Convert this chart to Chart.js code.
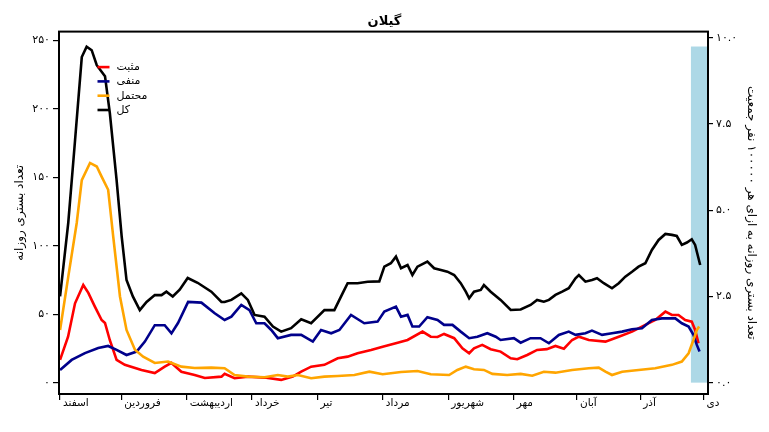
<!DOCTYPE html>
<html>
<head>
<meta charset="utf-8">
<script src="https://cdn.jsdelivr.net/npm/chart.js@4.4.0/dist/chart.umd.min.js"></script>
<style>
  html, body { margin: 0; padding: 0; background: #fff; }
  canvas { display: block; }
</style>
</head>
<body>
<canvas id="chart" width="769" height="432"></canvas>
<script>
// days counted from 1 Esfand
var monthStarts = [0, 29, 60, 91, 122, 153, 184, 215, 245, 275, 305];
var monthNames = ['اسفند', 'فروردین', 'اردیبهشت', 'خرداد', 'تیر', 'مرداد', 'شهریور', 'مهر', 'آبان', 'آذر', 'دی'];
var leftTicks = [0, 50, 100, 150, 200, 250];
var rightTicks = [0, 2.5, 5, 7.5, 10];
var shadeDays = [299, 307.1];
var shadeRight = [0, 9.75];

var positiveDays = [0, 3.8, 7.1, 11, 13.4, 16.5, 19.7, 21.3, 23.6, 26.8, 30.7, 38.6, 44.9, 49.6, 52.8, 57.5, 63.8, 68.6, 76.5, 78, 82.7, 89, 96.9, 104.8, 110.3, 114.3, 119, 125.3, 131.6, 136.3, 141, 147.4, 152.9, 160, 164.7, 171.8, 175.7, 178.9, 182, 186.8, 190.7, 193.9, 196.2, 200.1, 204.1, 208.8, 213.6, 216.7, 221.4, 226.1, 230.7, 234.8, 238.8, 242.7, 245.9, 250.6, 258.5, 264.8, 271.1, 277.4, 282.1, 286.9, 290, 293.1, 296.3, 299.4, 301, 302.6];
var positiveVals = [16.6, 33.6, 58, 71.4, 65.6, 55.6, 45.8, 43.6, 31, 16.6, 13, 9.3, 7, 11.7, 14.4, 8, 5.6, 3.4, 4.4, 6.4, 3.2, 4.4, 3.7, 2, 4.4, 8, 11.7, 13, 17.8, 19, 21.5, 23.9, 26.3, 29.2, 31.2, 37.3, 33.6, 33.4, 35.6, 32.5, 25.1, 21.5, 25.1, 27.6, 24.4, 22.7, 17.8, 17.1, 20.2, 23.9, 24.5, 26.8, 24.8, 31.2, 33.6, 31.2, 30, 33.6, 37.3, 42.2, 45.8, 51.9, 49.5, 49.5, 45.8, 44.6, 38.5, 28.8];

var negativeDays = [0, 5.5, 11.8, 18.1, 22.8, 26.8, 31.5, 36.3, 40.2, 44.9, 49.6, 52.8, 55.9, 60.7, 67, 73.3, 78, 81.2, 85.9, 89.8, 93, 96.9, 100.1, 103.2, 109.5, 114.3, 119.8, 123.7, 128.5, 132.4, 137.9, 144.2, 150.5, 153.7, 159.2, 161.6, 164.7, 167, 170.2, 174.1, 178.9, 182, 186, 189.9, 193.9, 197.8, 202.5, 206.5, 208.8, 215.1, 218.3, 223, 227.7, 231.7, 236.4, 241.1, 244.3, 249, 252.1, 256.9, 261.6, 266.4, 271.1, 275.8, 280.5, 285.3, 291.6, 294.7, 297.9, 300.2, 301.8, 303.1];
var negativeVals = [9.3, 16.6, 21.6, 25.3, 26.8, 24, 20.2, 22.7, 30, 42, 42, 36, 43.6, 59, 58.5, 50.7, 45.8, 48.2, 56.8, 53, 43.4, 43.4, 38.5, 32.5, 34.9, 34.9, 30, 38.5, 36.1, 38.5, 49.5, 43.4, 44.6, 51.9, 55.6, 48.2, 49.5, 41, 41, 47.8, 45.8, 42.2, 42.2, 37.3, 32.5, 33.6, 36.1, 33.6, 31.2, 32.5, 29.2, 32.5, 32.5, 28.8, 34.9, 37.3, 34.9, 36.1, 38, 34.9, 36.1, 37.3, 39, 39.8, 45.8, 47, 47, 43.4, 41, 34.9, 27.6, 22.7];

var suspectedDays = [0, 3.9, 7.9, 10.3, 14.2, 17.4, 19.7, 22.8, 25.2, 28.4, 31.5, 35.5, 39.4, 44.9, 51.2, 57.5, 63.8, 71.7, 78, 82.7, 89, 96.9, 103.2, 107.9, 112.7, 119, 125.3, 131.6, 139.5, 146.6, 152.9, 161.6, 169.4, 175.7, 184.4, 188.3, 192.3, 196.2, 200.9, 204.9, 211.9, 218.3, 223.8, 229.3, 234.8, 242.7, 250.6, 255.3, 258.5, 261.6, 266.4, 274.2, 282.1, 290, 294.7, 297.9, 300.2, 301.8, 302.9];
var suspectedVals = [38.5, 77.5, 116.7, 148, 160.6, 158, 150.6, 141, 106.7, 63, 38.5, 24, 19, 14.4, 15.4, 11.7, 10.7, 11, 10.5, 5.6, 4.4, 3.9, 5.6, 4.4, 5.6, 3.2, 4.4, 4.9, 5.6, 8, 6.1, 7.8, 8.5, 6.1, 5.6, 9.3, 11.7, 9.8, 9.3, 6.4, 5.6, 6.4, 5.1, 8, 7.3, 9.3, 10.5, 11, 8, 5.6, 8, 9.3, 10.5, 13, 15.4, 21.5, 31.2, 38.5, 41];

var totalDays = [0, 3.9, 7.1, 10.3, 12.6, 15, 17.4, 21.3, 23.6, 26.8, 29.2, 31.5, 34.5, 37.8, 41, 44.9, 48.1, 50.4, 53.4, 56.7, 60.5, 65.2, 71.7, 76.5, 78, 81.2, 85.9, 89, 92.2, 96.9, 100.9, 104.8, 109.5, 114.3, 119, 125.3, 130, 133.9, 136.3, 141, 145.8, 151.3, 153.7, 156.8, 159.2, 161.6, 164.7, 167, 169.4, 174.1, 177.3, 180.5, 183.6, 186.8, 189.9, 192.3, 193.9, 196.2, 199.4, 200.9, 204.1, 208.8, 213.6, 218.3, 223, 226.1, 229.3, 231.7, 234.8, 238, 241.1, 244.3, 245.9, 249, 252.1, 254.5, 257.7, 261.6, 264.8, 267.9, 271.1, 274.2, 277.4, 280.5, 283.7, 286.9, 290, 292.3, 294.7, 297.1, 299.4, 301, 303.4];
var totalVals = [63, 117, 177, 238, 245.6, 243, 232, 224, 197, 148, 107, 75, 63, 53, 59, 64, 64, 66.5, 63, 68, 76.5, 73, 66.5, 59, 59, 60.5, 65.3, 60.5, 49.5, 48.2, 41, 37.3, 39.8, 46.3, 43.4, 53, 53, 65.3, 72.7, 72.7, 73.8, 74, 84.8, 87.3, 92.1, 83.6, 86, 78.7, 84.8, 88.5, 83.6, 82.4, 81.1, 78.7, 72.7, 66.5, 61.7, 66.5, 67.8, 71.4, 66.5, 60.5, 53.1, 53.5, 56.8, 60.5, 59.2, 60.5, 64.1, 66.5, 69, 76.3, 78.7, 73.8, 75, 76.3, 72.7, 69, 72.7, 77.5, 81.1, 84.8, 87.3, 97, 104.3, 108.7, 108, 107.2, 100.7, 102.4, 104.8, 100.7, 86];

var perCapitaRatio = 25.2;
var yMin = -8.3, yMax = 256.6;

var FONT = "'DejaVu Sans', sans-serif";

function fa(s) {
    return String(s).replace(/\d/g, function (d) { return '۰۱۲۳۴۵۶۷۸۹'[d]; });
}

function toPoints(days, vals) {
    return days.map(function (d, i) { return {x: d, y: vals[i]}; });
}

function lineSet(label, color, days, vals, order) {
    return {
        label: label,
        data: toPoints(days, vals),
        borderColor: color,
        backgroundColor: color,
        borderWidth: 2.6,
        pointRadius: 0,
        tension: 0,
        fill: false,
        order: order,
        yAxisID: 'y'
    };
}

var shadePlugin = {
    id: 'shade',
    beforeDatasetsDraw: function (chart) {
        var ctx = chart.ctx, x = chart.scales.x, r = chart.scales.y2;
        var x0 = x.getPixelForValue(shadeDays[0]), x1 = x.getPixelForValue(shadeDays[1]);
        var y0 = r.getPixelForValue(shadeRight[1]), y1 = r.getPixelForValue(shadeRight[0]);
        ctx.save();
        ctx.fillStyle = '#add8e6';
        ctx.fillRect(x0, y0, x1 - x0, y1 - y0);
        ctx.restore();
    }
};

var framePlugin = {
    id: 'frame',
    afterDatasetsDraw: function (chart) {
        var ctx = chart.ctx, a = chart.chartArea;
        ctx.save();
        ctx.strokeStyle = '#000';
        ctx.lineWidth = 2;
        ctx.strokeRect(a.left, a.top, a.right - a.left, a.bottom - a.top);

        // legend, upper left inside the plot
        ctx.font = '11px ' + FONT;
        ctx.textBaseline = 'middle';
        ctx.textAlign = 'left';
        chart.data.datasets.forEach(function (ds, i) {
            var y = a.top + 35.5 + i * 14.3;
            ctx.strokeStyle = ds.borderColor;
            ctx.lineWidth = 2.6;
            ctx.beginPath();
            ctx.moveTo(a.left + 38.5, y);
            ctx.lineTo(a.left + 50.5, y);
            ctx.stroke();
            ctx.fillStyle = '#000';
            ctx.fillText(ds.label, a.left + 57.5, y);
        });
        ctx.restore();
    }
};

var ctx = document.getElementById('chart').getContext('2d');
new Chart(ctx, {
    type: 'line',
    data: {
        datasets: [
            lineSet('مثبت', '#ff0000', positiveDays, positiveVals, 4),
            lineSet('منفی', '#00008b', negativeDays, negativeVals, 3),
            lineSet('محتمل', '#ffa500', suspectedDays, suspectedVals, 2),
            lineSet('کل', '#000000', totalDays, totalVals, 1)
        ]
    },
    options: {
        responsive: false,
        animation: false,
        layout: {padding: 0},
        plugins: {
            legend: {display: false},
            tooltip: {enabled: false},
            title: {
                display: true,
                text: 'گیلان',
                color: '#000',
                font: {family: FONT, size: 13, weight: 'bold'},
                padding: {top: 14, bottom: 2}
            }
        },
        scales: {
            x: {
                type: 'linear',
                min: -0.5,
                max: 307.1,
                border: {display: false},
                grid: {display: true, drawOnChartArea: false, drawTicks: true, tickLength: 6, color: '#000', lineWidth: 1.2},
                afterBuildTicks: function (scale) {
                    scale.ticks = monthStarts.map(function (v) { return {value: v}; });
                },
                afterFit: function (scale) { scale.height = 38; },
                ticks: {
                    autoSkip: false,
                    maxRotation: 0,
                    align: 'start',
                    labelOffset: 3,
                    padding: -3,
                    color: '#000',
                    font: {family: FONT, size: 10.5},
                    callback: function (value, index) { return monthNames[index]; }
                }
            },
            y: {
                type: 'linear',
                position: 'left',
                min: yMin,
                max: yMax,
                border: {display: false},
                grid: {display: true, drawOnChartArea: false, drawTicks: true, tickLength: 6, color: '#000', lineWidth: 1.2},
                afterBuildTicks: function (scale) {
                    scale.ticks = leftTicks.map(function (v) { return {value: v}; });
                },
                afterFit: function (scale) { scale.width = 59; },
                ticks: {
                    padding: 3,
                    color: '#000',
                    font: {family: FONT, size: 11},
                    callback: function (value) { return fa(value); }
                },
                title: {
                    display: true,
                    text: 'تعداد بستری روزانه',
                    color: '#000',
                    font: {family: FONT, size: 12},
                    padding: {top: 13, bottom: 0}
                }
            },
            y2: {
                type: 'linear',
                position: 'right',
                min: yMin / perCapitaRatio,
                max: yMax / perCapitaRatio,
                border: {display: false},
                grid: {display: true, drawOnChartArea: false, drawTicks: true, tickLength: 5, color: '#000', lineWidth: 1.2},
                afterBuildTicks: function (scale) {
                    scale.ticks = rightTicks.map(function (v) { return {value: v}; });
                },
                afterFit: function (scale) { scale.width = 61; },
                ticks: {
                    padding: 3,
                    color: '#000',
                    font: {family: FONT, size: 11},
                    callback: function (value) { return fa(value.toFixed(1)); }
                },
                title: {
                    display: true,
                    text: 'تعداد بستری روزانه به ازای هر ۱۰۰۰۰۰ نفر جمعیت',
                    color: '#000',
                    font: {family: FONT, size: 12},
                    padding: {top: 11, bottom: 0}
                }
            }
        }
    },
    plugins: [shadePlugin, framePlugin]
});
</script>
</body>
</html>
